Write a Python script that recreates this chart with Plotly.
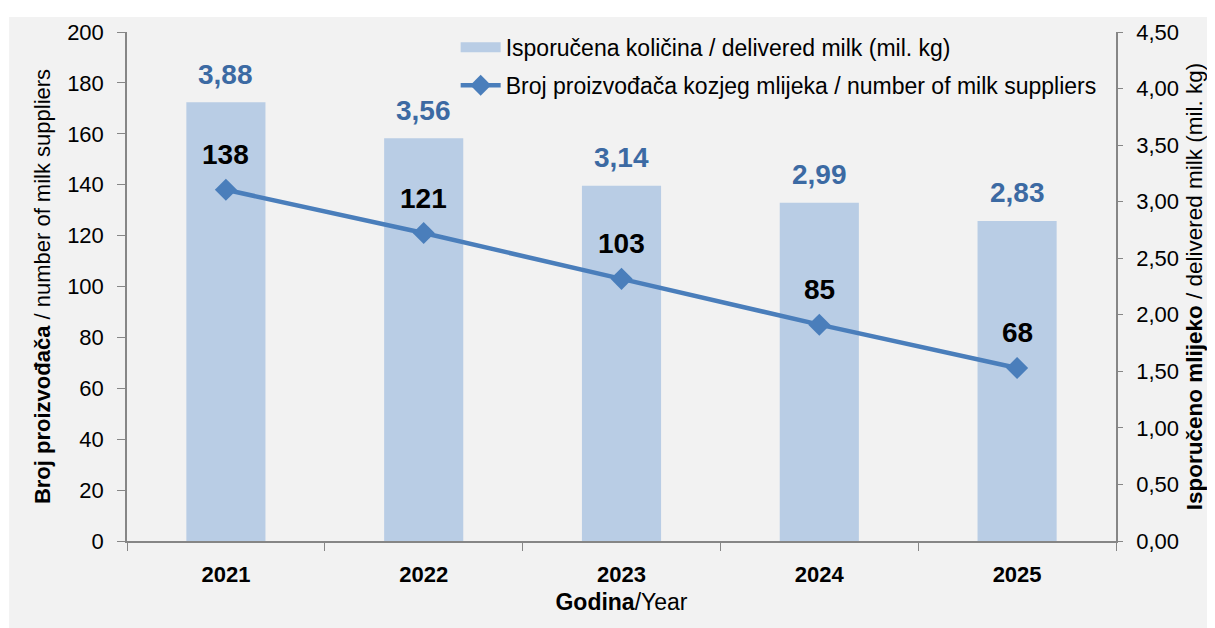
import plotly.graph_objects as go

years = ["2021", "2022", "2023", "2024", "2025"]
delivered_milk = [3.88, 3.56, 3.14, 2.99, 2.83]
suppliers = [138, 121, 103, 85, 68]
delivered_labels = ["3,88", "3,56", "3,14", "2,99", "2,83"]

bar_name = "Isporučena količina / delivered milk (mil. kg)"
line_name = "Broj proizvođača kozjeg mlijeka / number of milk suppliers"

NARROW = "Liberation Sans Narrow, Arial Narrow, Liberation Sans, Arial"
REG = "Liberation Sans, Arial"
BAR_COL = "#b9cde5"
LINE_COL = "#4a7ebb"
LBL_BLUE = "#3c6aa3"
AX_COL = "#868686"

# figure sits at (8, 8) in the page (body margin)
W, H = 1207, 620
L, R, T, B = 119, 98, 20, 87
PW, PH = W - L - R, H - T - B

fig = go.Figure()
fig.add_trace(go.Bar(
    x=years, y=delivered_milk, name=bar_name,
    marker=dict(color=BAR_COL, line=dict(width=0)), width=0.4,
    yaxis="y", legendgroup="a", showlegend=False))
# legend proxy giving the wide rectangular swatch of the bar series
fig.add_trace(go.Scatter(
    x=[None], y=[None], name=bar_name, mode="lines",
    line=dict(color=BAR_COL, width=13), yaxis="y", legendgroup="a", showlegend=True))
fig.add_trace(go.Scatter(
    x=years, y=suppliers, name=line_name,
    mode="lines+markers", line=dict(color=LINE_COL, width=4.5),
    marker=dict(symbol="diamond", size=17, color=LINE_COL),
    yaxis="y2", legendgroup="b"))

# annotations on a category axis use the category's serial index
annotations = []
for i, (v, t) in enumerate(zip(delivered_milk, delivered_labels)):
    annotations.append(dict(x=i, y=v, xref="x", yref="y", text=t, showarrow=False,
                            yanchor="middle", yshift=28,
                            font=dict(family=NARROW, size=28, color=LBL_BLUE, weight="bold")))
for i, v in enumerate(suppliers):
    annotations.append(dict(x=i, y=v, xref="x", yref="y2", text=str(v), showarrow=False,
                            yanchor="middle", yshift=35,
                            font=dict(family=NARROW, size=28, color="black", weight="bold")))

fig.update_layout(
    width=W, height=H,
    margin=dict(l=L, r=R, t=T, b=B),
    paper_bgcolor="white", plot_bgcolor="#f2f2f2",
    separators=",.",
    font=dict(family=REG, size=22, color="black"),
    bargap=0.6,
    showlegend=True,
    legend=dict(x=(456 - 127) / PW, y=1.012, xanchor="left", yanchor="top",
                bgcolor="rgba(0,0,0,0)",
                font=dict(family=NARROW, size=23), tracegroupgap=5, itemwidth=40),
    xaxis=dict(type="category", range=[-0.5, 4.5], showline=True, linecolor=AX_COL, linewidth=1.5,
               ticks="outside", tickson="boundaries", ticklen=8, tickcolor=AX_COL,
               ticklabelstandoff=13,
               tickfont=dict(family=NARROW, size=22, weight="bold"),
               title=dict(text="<b>Godina</b>/Year", font=dict(family=NARROW, size=23), standoff=8)),
    yaxis=dict(side="right", range=[0, 4.5], dtick=0.5, tickformat=".2f",
               showgrid=False, zeroline=False, showline=True, linecolor=AX_COL, linewidth=1.5,
               ticks="outside", ticklen=5, tickcolor=AX_COL, ticklabelstandoff=9,
               tickfont=dict(family=REG, size=22),
               title=dict(text="<b>Isporučeno mlijeko</b> / delivered milk (mil. kg)",
                          font=dict(family=NARROW, size=22.5), standoff=8)),
    yaxis2=dict(overlaying="y", side="left", range=[0, 200], dtick=20,
                showgrid=False, zeroline=False, showline=True, linecolor=AX_COL, linewidth=1.5,
                ticks="outside", ticklen=8, tickcolor=AX_COL, ticklabelstandoff=9,
                tickfont=dict(family=REG, size=22),
                title=dict(text="<b>Broj proizvođača</b> / number of milk suppliers",
                           font=dict(family=NARROW, size=22), standoff=10)),
    annotations=annotations,
    shapes=[dict(type="rect", xref="paper", yref="paper", layer="below",
                 x0=(1 - L) / PW, x1=(W - L) / PW + 0.02,
                 y0=-(B + 10) / PH, y1=(PH + T - 5) / PH,
                 fillcolor="#f2f2f2", line=dict(width=0))],
)

fig.write_html("out.html")
